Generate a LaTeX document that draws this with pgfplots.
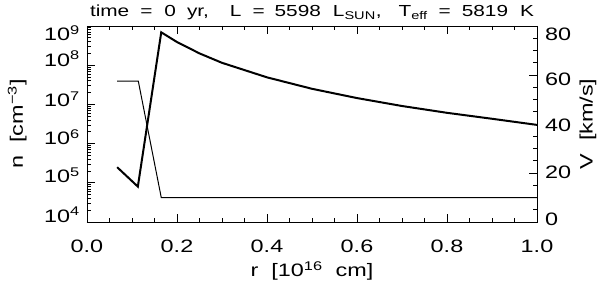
\documentclass[border=0pt]{standalone}
\usepackage{fontspec}
\setmainfont{Liberation Sans}[FakeStretch=1.3]
\usepackage{pgfplots}
\pgfplotsset{compat=1.18}
\begin{document}
\begin{tikzpicture}[x=1pt,y=1pt]
\path[use as bounding box] (-87,-65) rectangle (513,222);
\pgfplotsset{
  common/.style={
    at={(0,0)}, anchor=south west,
    scale only axis, width=450pt, height=196pt,
    xmin=0, xmax=1,
    major tick length=8pt, minor tick length=4pt,
    every tick/.style={black, line width=0.6pt},
    axis line style={line width=0.7pt},
    tick label style={font=\fontsize{18}{18}\selectfont, inner sep=0pt},
    label style={font=\fontsize{18}{18}\selectfont},
    /pgf/number format/assume math mode=true,
  }
}
\begin{axis}[common,
  ymode=log, ymin=1e4, ymax=1e9,
  ytick={1e4,1e5,1e6,1e7,1e8,1e9},
  yticklabels={10\textsuperscript{4},10\textsuperscript{5},\raisebox{-1pt}{10\textsuperscript{6}},\raisebox{-2pt}{10\textsuperscript{7}},\raisebox{-1pt}{10\textsuperscript{8}},\raisebox{-15pt}{10\textsuperscript{9}}},
  yticklabel style={anchor=base east, xshift=-7pt},
  ytick pos=left,
  xtick={0,0.2,0.4,0.6,0.8,1.0},
  xticklabels={0.0,0.2,0.4,0.6,0.8,1.0},
  xticklabel style={anchor=north, yshift=-18pt},
  minor x tick num=3,
  xtick pos=both,
  xlabel={r\ \ [10\textsuperscript{16}\ \ cm]},
  xlabel style={at={(axis description cs:0.5,-0.25)}, anchor=center},
  ylabel={n\ \ [cm\textsuperscript{\char"2212 3}]},
  ylabel style={at={(axis description cs:-0.155,0.5)}, anchor=center, rotate=0},
  title={time\hspace{11pt}=\hspace{12pt}0\hspace{11pt}yr,\hspace{21pt}L\hspace{11pt}=\hspace{10pt}5598\hspace{12pt}L\textsubscript{SUN},\hspace{17pt}T\textsubscript{eff}\hspace{11pt}=\hspace{11pt}5819\hspace{12pt}K},
  title style={font=\fontsize{16}{16}\selectfont, inner sep=0pt, at={(axis description cs:0.5,1)}, anchor=base, yshift=3pt},
]
\addplot[black, line width=2pt, mark=none] coordinates {
 (0.067,2.5e5) (0.113,8.0e4) (0.165,6.9e8) (0.2,3.9e8) (0.25,2.0e8)
 (0.3,1.15e8) (0.4,4.9e7) (0.5,2.5e7) (0.6,1.45e7) (0.7,9.1e6)
 (0.8,6.1e6) (0.9,4.3e6) (1.0,3.0e6)
};
\end{axis}
\begin{axis}[common,
  ymin=0, ymax=80,
  ytick={0,20,40,60,80},
  yticklabels={\raisebox{-3pt}{0},\raisebox{-5pt}{20},\raisebox{-7pt}{40},\raisebox{-10pt}{60},\raisebox{-14pt}{80}},
  minor y tick num=3,
  axis y line*=right, axis x line=none,
  yticklabel style={anchor=base west, xshift=8pt},
  ylabel={V\ \ [km/s]},
  ylabel style={at={(axis description cs:1.113,0.5)}, anchor=center, rotate=0},
]
\addplot[black, line width=1pt, mark=none] coordinates {
 (0.067,57.5) (0.114,57.5) (0.165,10) (1.0,10)
};
\end{axis}
\end{tikzpicture}
\end{document}
